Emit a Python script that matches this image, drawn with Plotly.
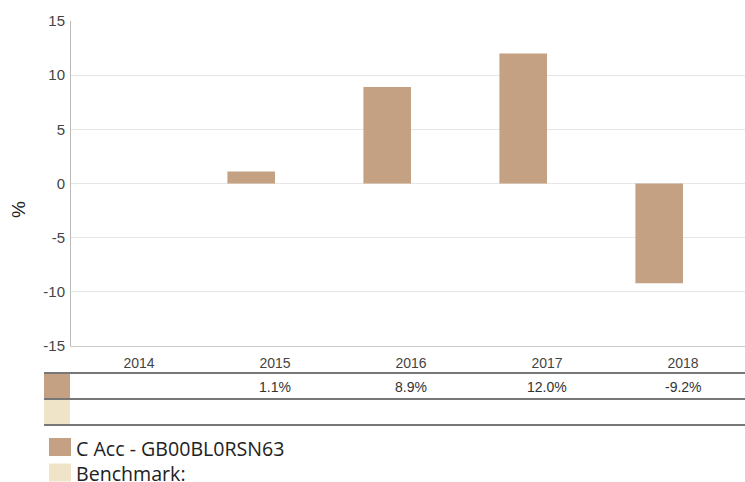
import plotly.graph_objects as go

years = ["2014", "2015", "2016", "2017", "2018"]
fund_values = [None, 1.1, 8.9, 12.0, -9.2]
bench_values = [None, None, None, None, None]
fund_name = "C Acc - GB00BL0RSN63"
bench_name = "Benchmark:"
y_ticks = [-15, -10, -5, 0, 5, 10, 15]
y_ticktext = [str(v) for v in y_ticks]

FUND_COLOR = "#c4a182"
BENCH_COLOR = "#f0e4c8"

W, H = 751, 482
L, R, T, B = 71, 0, 21, 136

fig = go.Figure()
fig.add_trace(go.Bar(x=years, y=fund_values, name=fund_name, marker_color=FUND_COLOR,
                     marker_line_width=0, showlegend=False, hoverinfo="skip"))
fig.add_trace(go.Bar(x=years, y=bench_values, name=bench_name, marker_color=BENCH_COLOR,
                     marker_line_width=0, showlegend=False, hoverinfo="skip"))

ph = H - T - B
def py(pix):
    return (H - B - pix) / ph
def px(pix):
    return (pix - L) / (W - L - R)

shapes = []
annotations = []

for yy in [373, 399, 425]:
    shapes.append(dict(type="line", xref="paper", yref="paper", x0=px(44), x1=px(W),
                       y0=py(yy), y1=py(yy), line=dict(color="#4a4a4a", width=1.5)))
shapes.append(dict(type="rect", xref="paper", yref="paper", x0=px(44), x1=px(70),
                   y0=py(374), y1=py(398), fillcolor=FUND_COLOR, line_width=0))
shapes.append(dict(type="rect", xref="paper", yref="paper", x0=px(44), x1=px(70),
                   y0=py(400), y1=py(424), fillcolor=BENCH_COLOR, line_width=0))

for i, v in enumerate(fund_values):
    if v is not None:
        annotations.append(dict(x=i, xref="x", y=py(386.5), yref="paper", text=f"{v:.1f}%",
                                showarrow=False, font=dict(family="Liberation Sans, Arial", size=14, color="#333"),
                                xanchor="center", yanchor="middle"))
for i, v in enumerate(bench_values):
    if v is not None:
        annotations.append(dict(x=i, xref="x", y=py(412), yref="paper", text=f"{v:.1f}%",
                                showarrow=False, font=dict(family="Liberation Sans, Arial", size=14, color="#333"),
                                xanchor="center", yanchor="middle"))

# custom legend: swatches + one multi-line text block
legend_items = [(fund_name, FUND_COLOR), (bench_name, BENCH_COLOR)]
for i, (name, col) in enumerate(legend_items):
    top = 438 + i * 25.5
    shapes.append(dict(type="rect", xref="paper", yref="paper", x0=px(49), x1=px(71),
                       y0=py(top), y1=py(top + 18), fillcolor=col, line_width=0))
annotations.append(dict(x=px(75), xref="paper", y=py(434), yref="paper",
                        text="<br>".join(n for n, _ in legend_items),
                        showarrow=False, xanchor="left", yanchor="top", align="left", borderpad=0,
                        font=dict(family="Open Sans", size=19.6, color="#222")))

annotations.append(dict(x=px(18), xref="paper", y=py(210), yref="paper", text="%", textangle=-90,
                        showarrow=False, xanchor="center", yanchor="middle",
                        font=dict(family="Liberation Sans, Arial", size=19, color="#222")))

fig.update_layout(
    width=W, height=H,
    margin=dict(l=L, r=R, t=T, b=B, autoexpand=False),
    paper_bgcolor="white", plot_bgcolor="white",
    barmode="group", bargap=0.3, bargroupgap=0,
    shapes=shapes, annotations=annotations,
    hovermode=False,
    xaxis=dict(type="category", categoryorder="array", categoryarray=years,
               range=[-0.5, len(years) - 0.5], autorange=False,
               showgrid=False, showline=True, linecolor="#cccccc", linewidth=1,
               ticks="outside", ticklen=4, tickcolor="rgba(0,0,0,0)",
               tickfont=dict(family="Liberation Sans, Arial", size=14, color="#444"),
               fixedrange=True),
    yaxis=dict(range=[-15, 15], autorange=False, tickvals=y_ticks, ticktext=y_ticktext,
               showgrid=True, gridcolor="#e6e6e6",
               zeroline=True, zerolinecolor="#e6e6e6", zerolinewidth=1,
               showline=True, linecolor="#bbbbbb", linewidth=1, ticks="outside", ticklen=2,
               tickcolor="rgba(0,0,0,0)",
               tickfont=dict(family="Liberation Sans, Arial", size=15, color="#444"),
               fixedrange=True),
)

fig.write_html("out.html", config={"displayModeBar": False, "staticPlot": True},
               post_script="document.body.style.margin='0';document.body.style.overflow='hidden';")
